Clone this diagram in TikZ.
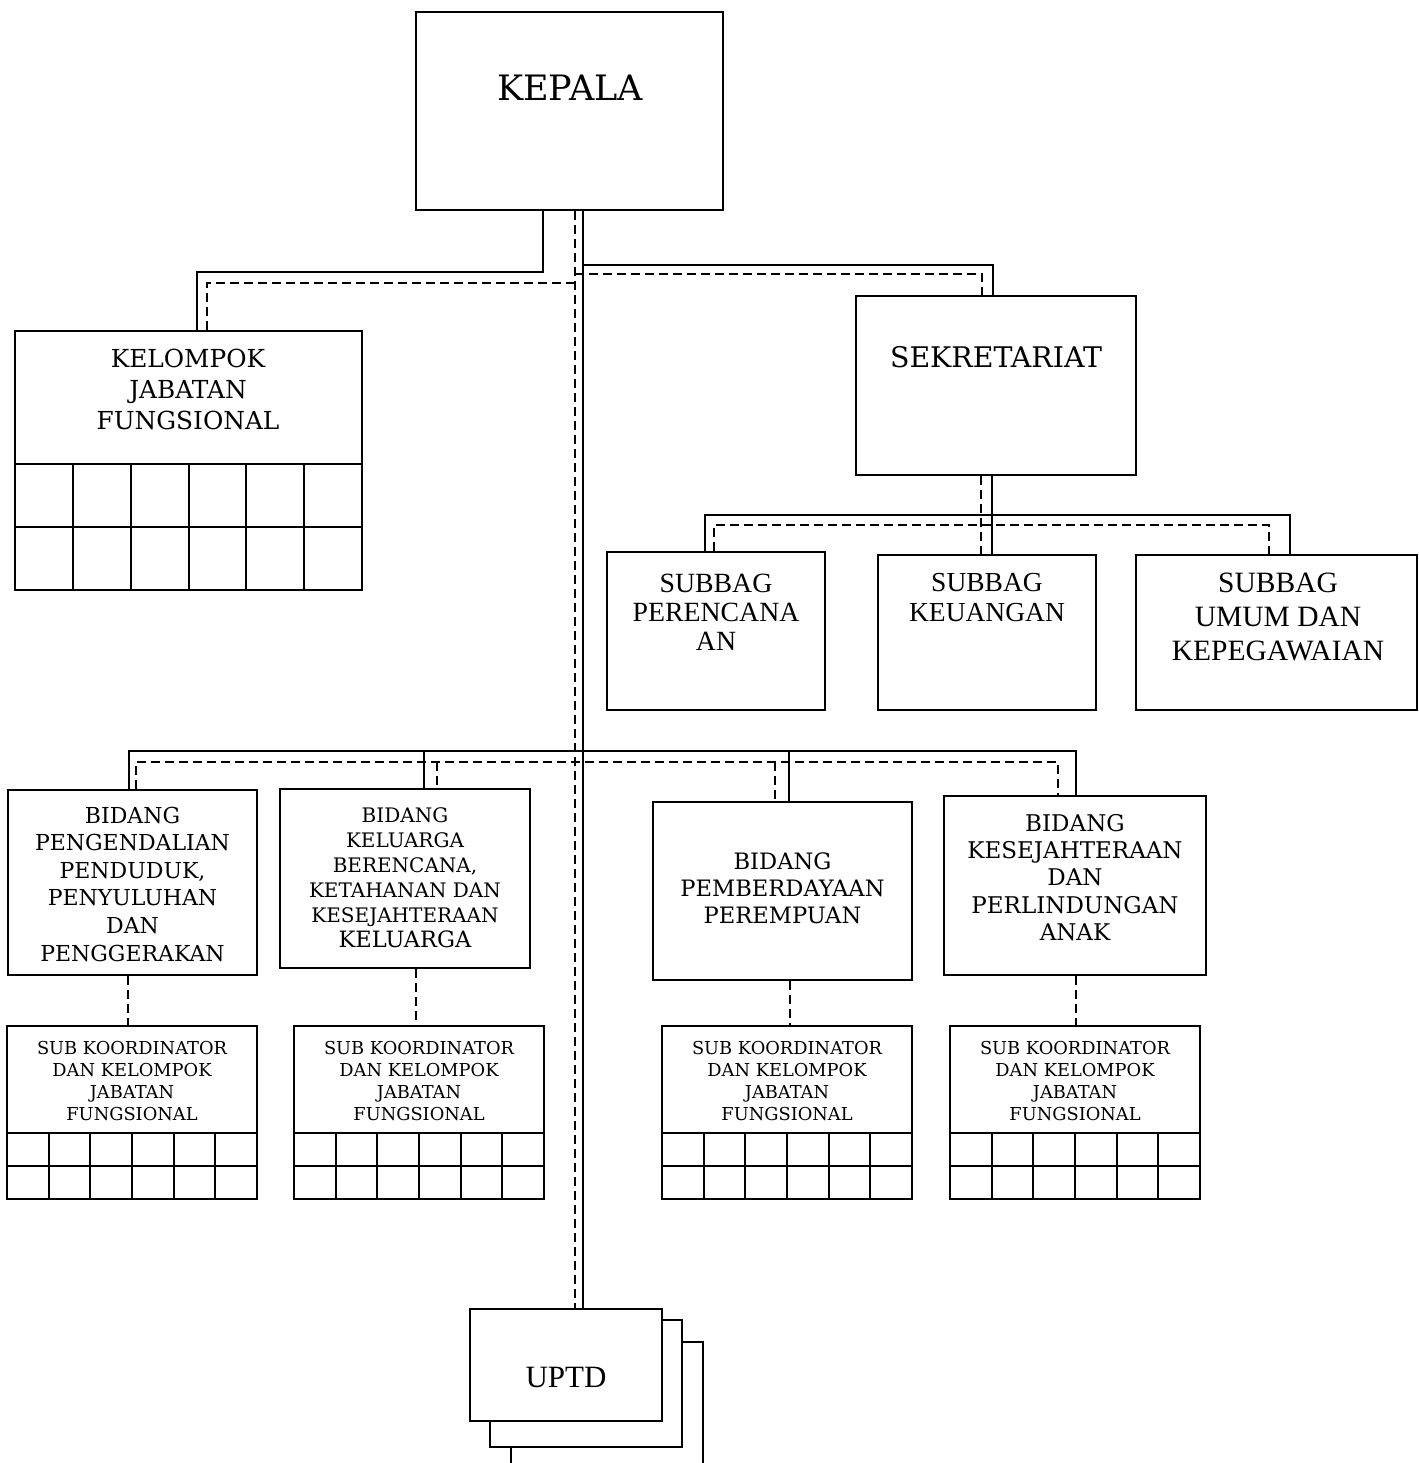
\documentclass[tikz,border=0pt]{standalone}
\usepackage{fontspec}
\newfontfamily\timesf{Liberation Serif}
\newfontfamily\schola{DejaVu Serif}
\newcommand\fsz[2]{\fontsize{#1}{#2}\selectfont}
\tikzset{
  box/.style={draw, line width=2pt, inner sep=0pt, fill=white},
  sline/.style={line width=1.8pt},
  dline/.style={line width=1.8pt, dash pattern=on 9pt off 5pt},
  gridl/.style={line width=1.8pt},
  lbl/.style={align=center, inner sep=0pt},
}
\begin{document}
\begin{tikzpicture}[x=1pt,y=-1pt]
\fill[white] (0,0) rectangle (1418,1463);
\useasboundingbox (0,0) rectangle (1418,1463);

% ---------- boxes ----------
\node[box, minimum width=307pt, minimum height=198pt] (kepala) at (569.5,111) {};
\node[lbl, font={\schola\fsz{35}{40}}] (kepalat) at (570,88) {KEPALA};

\node[box, minimum width=347pt, minimum height=259pt] (kjf) at (188.5,460.5) {};
\node[lbl, font={\schola\fsz{24.8}{31}}] (kjft) at (188,389) {KELOMPOK\\JABATAN\\FUNGSIONAL};
\draw[gridl] (15,464) -- (362,464);
\draw[gridl] (15,527) -- (362,527);
\foreach \gx in {73,131,189,246,304} \draw[gridl] (\gx,464) -- (\gx,590);

\node[box, minimum width=280pt, minimum height=179pt] (sek) at (996,385.5) {};
\node[lbl, font={\schola\fsz{28.4}{34}}] (sekt) at (996,357) {SEKRETARIAT};

\node[box, minimum width=218pt, minimum height=158pt] (sb1) at (716,631) {};
\node[lbl, font={\timesf\fsz{27.8}{29}}] (sb1t) at (716,612) {SUBBAG\\PERENCANA\\AN};
\node[box, minimum width=218pt, minimum height=155pt] (sb2) at (987,632.5) {};
\node[lbl, font={\timesf\fsz{27.5}{30}}] (sb2t) at (987,598) {SUBBAG\\KEUANGAN};
\node[box, minimum width=281pt, minimum height=155pt] (sb3) at (1276.5,632.5) {};
\node[lbl, font={\timesf\fsz{29.5}{34}}] (sb3t) at (1278,617) {SUBBAG\\UMUM DAN\\KEPEGAWAIAN};

\node[box, minimum width=249pt, minimum height=185pt] (b1) at (132.5,882.5) {};
\node[lbl, font={\schola\fsz{22}{27.6}}] (b1t) at (132.5,884) {BIDANG\\PENGENDALIAN\\PENDUDUK,\\PENYULUHAN\\DAN\\PENGGERAKAN};
\node[box, minimum width=250pt, minimum height=179pt] (b2) at (405,878.5) {};
\node[lbl, font={\schola\fsz{20}{25}}] (b2t) at (405,877.5) {BIDANG\\KELUARGA\\BERENCANA,\\KETAHANAN DAN\\KESEJAHTERAAN\\\fsz{22.5}{29}KELUARGA};
\node[box, minimum width=259pt, minimum height=178pt] (b3) at (782.5,891) {};
\node[lbl, font={\schola\fsz{22.6}{27}}] (b3t) at (782.5,888.5) {BIDANG\\PEMBERDAYAAN\\PEREMPUAN};
\node[box, minimum width=262pt, minimum height=179pt] (b4) at (1075,885.5) {};
\node[lbl, font={\schola\fsz{23}{27.2}}] (b4t) at (1075,877.5) {BIDANG\\KESEJAHTERAAN\\DAN\\PERLINDUNGAN\\ANAK};

% sub koordinator boxes
\foreach \nm/\xa in {sk1/7, sk2/294, sk3/662, sk4/950} {
  \node[box, minimum width=250pt, minimum height=173pt] (\nm) at (\xa+125,1112.5) {};
  \node[lbl, font={\schola\fsz{17.8}{22}}] (\nm t) at (\xa+125,1081) {SUB KOORDINATOR\\DAN KELOMPOK\\JABATAN\\FUNGSIONAL};
  \draw[gridl] (\xa,1133) -- (\xa+250,1133);
  \draw[gridl] (\xa,1166) -- (\xa+250,1166);
  \foreach \k in {1,...,5} \draw[gridl] (\xa+\k*41.667,1133) -- (\xa+\k*41.667,1199);
}

% UPTD stack
\draw[line width=2pt] (511,1463) -- (511,1342) -- (703,1342) -- (703,1463);
\node[box, minimum width=192pt, minimum height=127pt] (uptd2) at (586,1383.5) {};
\node[box, minimum width=192pt, minimum height=112pt] (uptd) at (566,1365) {};
\node[lbl, font={\timesf\fsz{31}{36}}] (uptdt) at (566,1377) {UPTD};

% ---------- connectors ----------
% Kepala -> Kelompok Jabatan Fungsional
\coordinate (ka1) at (543,272); \coordinate (ka2) at (197,272);
\draw[sline] (kepala.south -| ka1) -- (ka1) -- (ka2) -- (kjf.north -| ka2);
\coordinate (kd1) at (575,283); \coordinate (kd2) at (207,283);
\draw[dline] (kd1) -- (kd2) -- (kjf.north -| kd2);

% central trunk to UPTD
\coordinate (cd) at (575,300); \coordinate (cs) at (583,300);
\draw[dline] (kepala.south -| cd) -- (uptd.north -| cd);
\draw[sline] (kepala.south -| cs) -- (uptd.north -| cs);

% Kepala -> Sekretariat
\coordinate (ss1) at (583,265); \coordinate (ss2) at (993,265);
\draw[sline] (ss1) -- (ss2) -- (sek.north -| ss2);
\coordinate (sd1) at (575,274); \coordinate (sd2) at (982,274);
\draw[dline] (sd1) -- (sd2) -- (sek.north -| sd2);

% Sekretariat -> Subbag
\coordinate (sbs) at (992,515); \coordinate (sbd) at (981,525);
\draw[sline] (sek.south -| sbs) -- (sb2.north -| sbs);
\draw[dline] (sek.south -| sbd) -- (sb2.north -| sbd);
\coordinate (sbsL) at (705,515); \coordinate (sbsR) at (1290,515);
\draw[sline] (sb1.north -| sbsL) -- (sbsL) -- (sbsR) -- (sb3.north -| sbsR);
\coordinate (sbdL) at (714,525); \coordinate (sbdR) at (1269,525);
\draw[dline] (sb1.north -| sbdL) -- (sbdL) -- (sbdR) -- (sb3.north -| sbdR);

% Kepala -> Bidang
\coordinate (bsL) at (129,751); \coordinate (bsR) at (1076,751);
\draw[sline] (b1.north -| bsL) -- (bsL) -- (bsR) -- (b4.north -| bsR);
\coordinate (bs2) at (424,751); \draw[sline] (bs2) -- (b2.north -| bs2);
\coordinate (bs3) at (789,751); \draw[sline] (bs3) -- (b3.north -| bs3);
\coordinate (bdL) at (136,762); \coordinate (bdR) at (1058,762);
\draw[dline] (b1.north -| bdL) -- (bdL) -- (bdR) -- (b4.north -| bdR);
\coordinate (bd2) at (437,762); \draw[dline] (bd2) -- (b2.north -| bd2);
\coordinate (bd3) at (775,762); \draw[dline] (bd3) -- (b3.north -| bd3);

% Bidang -> Sub Koordinator
\coordinate (dk1) at (128,1000); \draw[dline] (b1.south -| dk1) -- (sk1.north -| dk1);
\coordinate (dk2) at (416,1000); \draw[dline] (b2.south -| dk2) -- (sk2.north -| dk2);
\coordinate (dk3) at (790,1000); \draw[dline] (b3.south -| dk3) -- (sk3.north -| dk3);
\coordinate (dk4) at (1076,1000); \draw[dline] (b4.south -| dk4) -- (sk4.north -| dk4);
\end{tikzpicture}
\end{document}
